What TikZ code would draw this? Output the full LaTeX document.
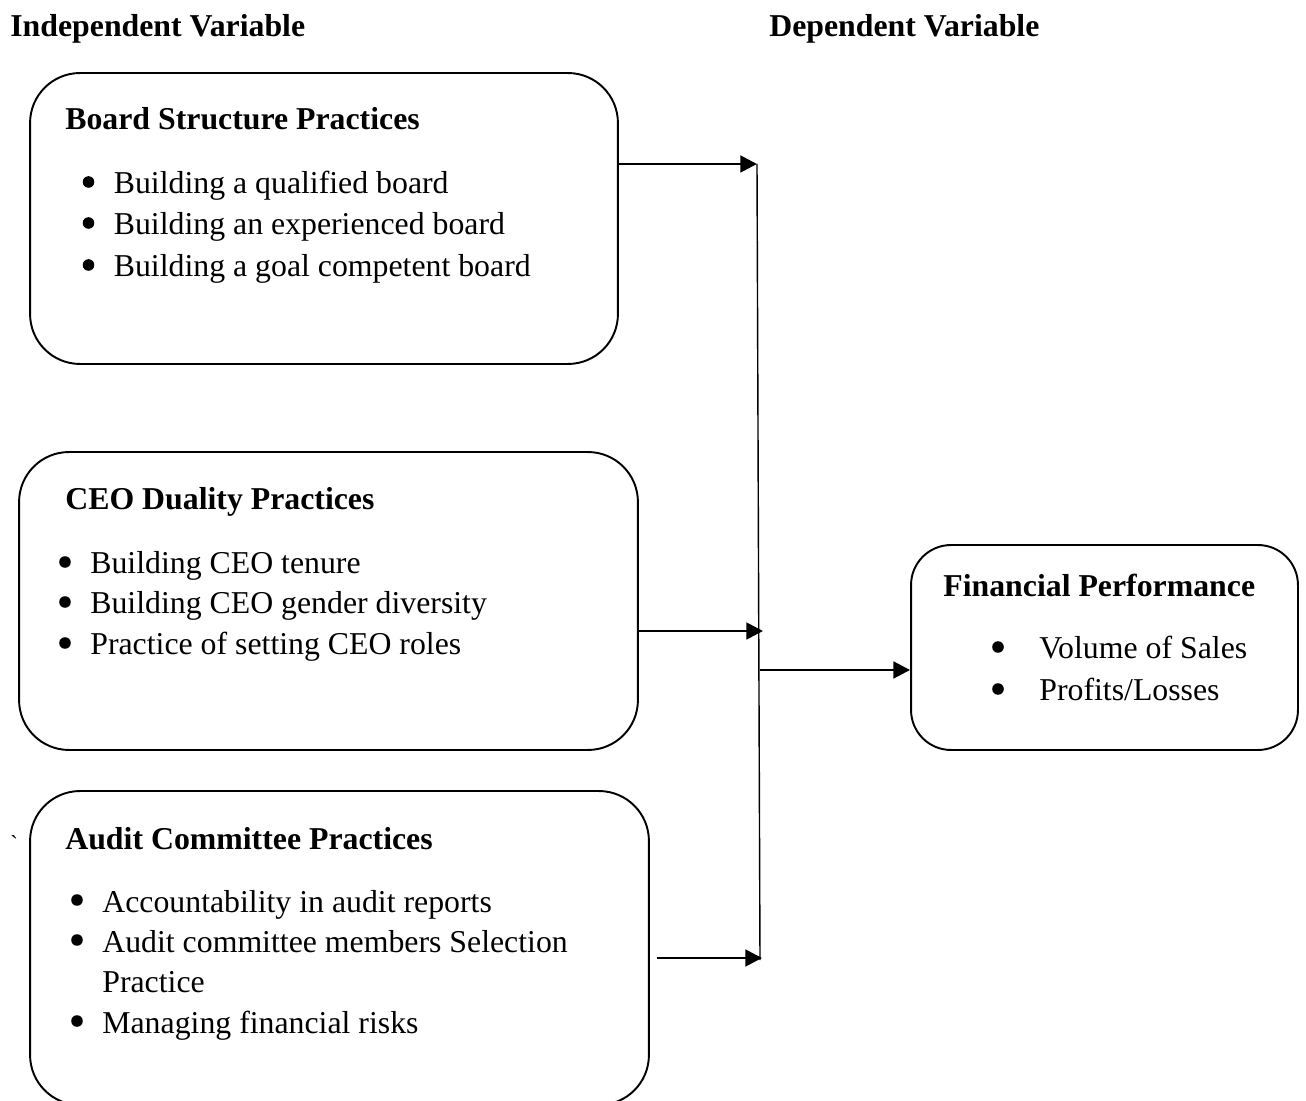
\documentclass[tikz,border=0pt]{standalone}
\usepackage{fontspec}
\setmainfont{Liberation Serif}
\usetikzlibrary{arrows.meta}

\begin{document}
\begin{tikzpicture}[x=0.02cm, y=-0.02cm,
	box/.style={draw, line width=1.1pt, rounded corners=1cm, inner sep=0pt},
	txt/.style={anchor=base west, inner sep=0pt, font=\fontsize{18.1}{23}\selectfont},
	head/.style={txt, font=\fontsize{18.1}{23}\selectfont\bfseries},
	arr/.style={-{Triangle[length=9.5pt, width=9.5pt]}, line width=1.6pt}]
		\useasboundingbox (0,0) rectangle (1306,1101);
		\clip (0,0) rectangle (1306,1101);
		\node[head] (indep) at (10,37) {Independent Variable};
		\node[head] (dep) at (769,37) {Dependent Variable};
		% the three practice boxes
		\node[box, minimum width=11.76cm, minimum height=5.82cm] (board) at (324,218.5) {};
		\node[head] (boardhead) at (65,130) {Board Structure Practices};
		\node[txt] (boarda) at (113.5,194) {Building a qualified board};
		\node[txt] (boardb) at (113.5,235) {Building an experienced board};
		\node[txt] (boardc) at (113.5,277) {Building a goal competent board};
		\node[box, minimum width=12.38cm, minimum height=5.96cm] (ceo) at (328.5,601) {};
		\node[head] (ceohead) at (65,510) {CEO Duality Practices};
		\node[txt] (ceoa) at (90,574) {Building CEO tenure};
		\node[txt] (ceob) at (90,614) {Building CEO gender diversity};
		\node[txt] (ceoc) at (90,655) {Practice of setting CEO roles};
		\node[txt, font=\fontsize{13}{14}\selectfont] (tick) at (10,851) {\textasciigrave};
		\node[box, minimum width=12.38cm, minimum height=6.28cm] (audit) at (339.5,948) {};
		\node[head] (audithead) at (65,849) {Audit Committee Practices};
		\node[txt] (audita) at (102,912) {Accountability in audit reports};
		\node[txt] (auditb) at (102,952) {Audit committee members Selection};
		\node[txt] (auditb2) at (102,992) {Practice};
		\node[txt] (auditc) at (102,1033) {Managing financial risks};
		% outcome box
		\node[box, rounded corners=0.8cm, minimum width=7.74cm, minimum height=4.1cm] (fin) at (1104.5,647.5) {};
		\node[head] (finhead) at (943,597) {Financial Performance};
		\node[txt] (fina) at (1039,659) {Volume of Sales};
		\node[txt] (finb) at (1039,701) {Profits/Losses};
		% bullets
		\foreach \n in {boarda,boardb,boardc,ceoa,ceob,ceoc,audita,auditb,auditc}
			\fill ([shift={(-25,-12)}]\n.base west) circle (3.3pt);
		\foreach \n in {fina,finb}
			\fill ([shift={(-41,-12)}]\n.base west) circle (3.3pt);
		% collecting line
		\coordinate (bustop) at (757,164);
		\coordinate (busbot) at (760,960);
		\coordinate (in2) at (763,631);
		\coordinate (out) at (760,670);
		\coordinate (in3) at (762,958);
		\draw[line width=0.8pt] (bustop) -- (busbot);
		\draw[arr] (board.east |- bustop) -- (bustop);
		\draw[arr] (ceo.east |- in2) -- (in2);
		\draw[arr] ([xshift=4]audit.east |- in3) -- (in3);
		\draw[arr] (out) -- (fin.west |- out);
\end{tikzpicture}
\end{document}
